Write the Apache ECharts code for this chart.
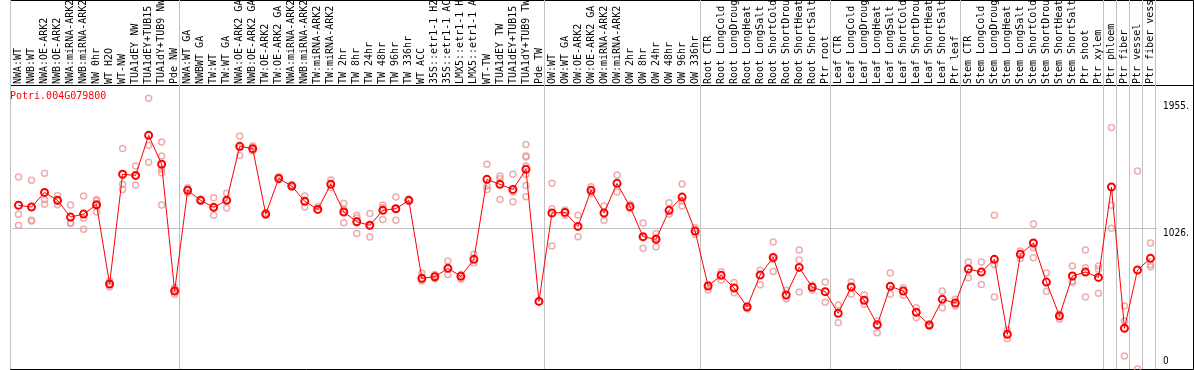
<!DOCTYPE html>
<html>
<head>
<meta charset="utf-8">
<script src="https://cdn.jsdelivr.net/npm/echarts@6/dist/echarts.min.js"></script>
<style>
html,body{margin:0;padding:0;background:#fff;}
#chart{width:1194px;height:370px;}
</style>
</head>
<body>
<div id="chart"></div>
<script>
const geneName = 'Potri.004G079800';

const categories = ["NWA:WT","NWB:WT","NWA:OE-ARK2","NWB:OE-ARK2","NWA:miRNA-ARK2","NWB:miRNA-ARK2","NW 0hr","WT H2O","WT-NW","TUA1dEY NW","TUA1dEY+TUB15 NW","TUA1dY+TUB9 NW","Pde NW",
"NWA:WT GA","NWBWT GA","TW:WT","TW:WT GA","NWA:OE-ARK2 GA","NWB:OE-ARK2 GA","TW:OE-ARK2","TW:OE-ARK2 GA","NWA:miRNA-ARK2 GA","NWB:miRNA-ARK2 GA","TW:miRNA-ARK2","TW:miRNA-ARK2 GA","TW 2hr","TW 8hr","TW 24hr","TW 48hr","TW 96hr","TW 336hr","WT ACC","35S::etr1-1 H2O","35S::etr1-1 ACC","LMX5::etr1-1 H2O","LMX5::etr1-1 ACC","WT-TW","TUA1dEY TW","TUA1dEY+TUB15 TW","TUA1dY+TUB9 TW","Pde TW",
"OW:WT","OW:WT GA","OW:OE-ARK2","OW:OE-ARK2 GA","OW:miRNA-ARK2","OW:miRNA-ARK2 GA","OW 2hr","OW 8hr","OW 24hr","OW 48hr","OW 96hr","OW 336hr",
"Root CTR","Root LongCold","Root LongDrought","Root LongHeat","Root LongSalt","Root ShortCold","Root ShortDrought","Root ShortHeat","Root ShortSalt","Ptr root",
"Leaf CTR","Leaf LongCold","Leaf LongDrought","Leaf LongHeat","Leaf LongSalt","Leaf ShortCold","Leaf ShortDrought","Leaf ShortHeat","Leaf ShortSalt","Ptr leaf",
"Stem CTR","Stem LongCold","Stem LongDrought","Stem LongHeat","Stem LongSalt","Stem ShortCold","Stem ShortDrought","Stem ShortHeat","Stem ShortSalt","Ptr shoot","Ptr xylem",
"Ptr phloem","Ptr fiber","Ptr vessel","Ptr fiber vessel"];

// index of first category of each group (vertical separators drawn before these)
const groupStarts = [0, 13, 41, 53, 63, 73, 84, 85, 86, 87];

const means = [1194,1181,1288,1230,1108,1130,1198,620,1420,1412,1704,1493,569,
1303,1230,1179,1230,1624,1607,1130,1390,1334,1223,1164,1347,1145,1074,1048,1157,1169,1230,661,673,734,676,800,1383,1347,1310,1456,493,
1138,1142,1040,1303,1138,1354,1184,965,946,1157,1254,1006,
605,683,591,452,685,814,540,741,596,564,
406,598,501,323,603,569,413,321,508,481,
729,707,800,253,836,919,634,387,678,707,668,
1327,297,722,807];

const replicates = [
[1400,1128,1048],[1376,1084,1079],[1427,1237,1201],[1266,1225,1198],[1196,1067,1062],[1262,1099,1019],[1237,1225,1189,1145],[642,617,598],[1609,1347,1310],[1480,1412,1342],[1974,1631,1507],[1655,1553,1456,1432,1196],[593,545,576],
[1322,1310,1286],[1237,1225],[1249,1176,1121],[1281,1230,1174],[1699,1558,1614],[1626,1590,1602],[1140,1121],[1403,1378],[1342,1327],[1262,1181],[1184,1160],[1378,1322],[1208,1067,1164],[1121,1104,989],[1135,963,1043],[1196,1091,1176],[1254,1084,1169],[1237,1223],[698,642,654],[690,659,678],[788,690,732],[690,654,678],[836,775],[1493,1334,1310],[1407,1388,1237],[1420,1291,1220],[1638,1553,1546,1480,1420,1339,1257],[493],
[1354,1169,897],[1160,1121],[1121,965],[1330,1281],[1189,1084],[1415,1291],[1201,1169],[1065,880,958],[989,892,958],[1213,1128],[1349,1189,1225],[1031,982],
[617,576],[710,649],[630,557],[459,440],[720,615],[926,712,800],[574,513],[868,795,562],[610,576],[634,486],
[467,338],[634,545],[540,472],[350,265],[700,545],[593,537],[447,374],[326,314],[569,447],[508,459],
[780,666],[780,617],[1121,763,525],[284,221],[861,805],[1057,885,812],[700,566],[399,362],[751,642,630],[868,739,525],[751,727,552],
[1762,1194,1026],[459,350,95],[1444,0],[919,763,746]
];

const tickValues = [0, 1026, 1955];
const tickLabels = ['0', '1026.', '1955.'];
const refLineValue = 1026;
const yMax = 2064;

const repData = [];
replicates.forEach((arr, i) => arr.forEach(v => repData.push([i, v])));

const labelOf = v => tickLabels[tickValues.indexOf(v)];
const mono = "'DejaVu Sans Mono', monospace";
const narrow = "'Liberation Sans Narrow', 'DejaVu Sans Condensed', sans-serif";

const gridBase = {outerBoundsMode: 'none', containLabel: false};

const chart = echarts.init(document.getElementById('chart'), null, {renderer: 'canvas'});
chart.setOption({
  animation: false,
  backgroundColor: '#ffffff',
  title: {
    text: geneName, left: 10, top: 91, padding: 0,
    textStyle: {color: '#ff0000', fontSize: 10, fontWeight: 'normal', fontFamily: mono}
  },
  grid: [
    Object.assign({left: 12, top: 86, width: 1145, height: 283}, gridBase),
    Object.assign({left: 10.5, top: 0, width: 1145, height: 369}, gridBase),
    Object.assign({left: 10.5, top: 0.5, right: 0.5, height: 85, show: true, borderColor: '#000', borderWidth: 1, backgroundColor: 'transparent'}, gridBase),
    Object.assign({left: 10.5, top: 85.5, right: 0.5, bottom: 0.5, show: true, borderColor: '#000', borderWidth: 1, backgroundColor: 'transparent'}, gridBase)
  ],
  xAxis: [
    {gridIndex: 0, type: 'category', data: categories, position: 'top', boundaryGap: true,
      axisLine: {show: false}, axisTick: {show: false}, splitLine: {show: false},
      axisLabel: {interval: 0, rotate: 90, margin: 2, fontSize: 10, fontFamily: mono, color: '#000', hideOverlap: false}},
    {gridIndex: 1, type: 'category', data: categories, boundaryGap: true,
      axisLine: {show: false}, axisTick: {show: false}, axisLabel: {show: false},
      splitLine: {show: true, interval: (idx) => groupStarts.indexOf(idx) >= 0, lineStyle: {color: '#c0c0c0', width: 1}}},
    {gridIndex: 2, type: 'value', show: false},
    {gridIndex: 3, type: 'value', show: false}
  ],
  yAxis: [
    {gridIndex: 0, type: 'value', position: 'right', min: 0, max: yMax,
      axisLine: {show: false}, axisTick: {show: false}, splitLine: {show: false},
      axisLabel: {customValues: tickValues.slice(1), formatter: labelOf, verticalAlign: 'top', margin: 6,
        fontSize: 10, fontFamily: narrow, color: '#000'}},
    {gridIndex: 1, type: 'value', position: 'right', min: 0, max: yMax * 369 / 283,
      axisLine: {show: false}, axisTick: {show: false}, splitLine: {show: false},
      axisLabel: {customValues: tickValues.slice(0, 1), formatter: labelOf, verticalAlign: 'bottom', margin: 7.5,
        padding: [0, 0, 3, 0], fontSize: 10, fontFamily: narrow, color: '#000'}},
    {gridIndex: 2, type: 'value', show: false},
    {gridIndex: 3, type: 'value', show: false}
  ],
  series: [
    {
      name: 'replicates', type: 'scatter', xAxisIndex: 0, yAxisIndex: 0,
      data: repData, symbol: 'circle', symbolSize: 6,
      itemStyle: {color: 'rgba(0,0,0,0)', borderColor: '#e8989a', borderWidth: 1.5},
      silent: true, z: 2
    },
    {
      name: 'mean', type: 'line', xAxisIndex: 0, yAxisIndex: 0,
      data: means, symbol: 'circle', symbolSize: 7, showAllSymbol: true,
      lineStyle: {color: '#ff0000', width: 1},
      itemStyle: {color: 'rgba(255,0,0,0)', borderColor: '#ff0000', borderWidth: 2},
      silent: true, z: 3,
      markLine: {
        silent: true, symbol: 'none', label: {show: false},
        lineStyle: {color: '#c0c0c0', type: 'solid', width: 1},
        data: [{yAxis: refLineValue}], z: 1
      }
    }
  ]
});
</script>
</body>
</html>
